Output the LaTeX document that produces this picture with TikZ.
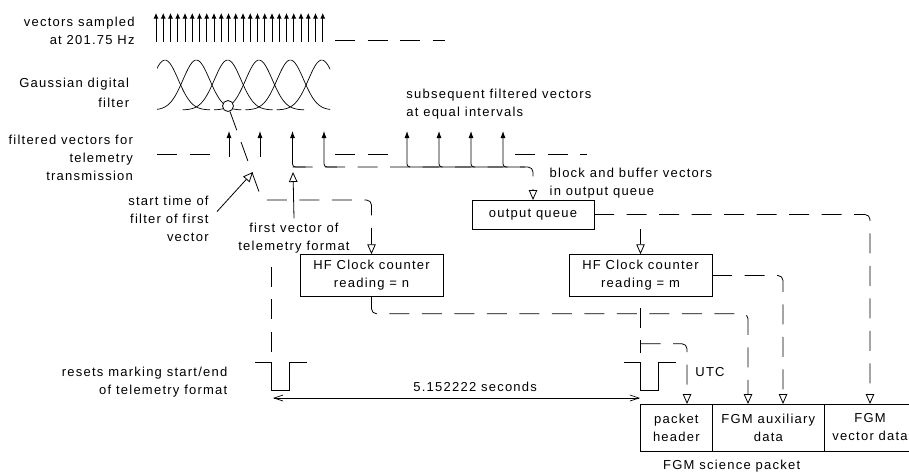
\documentclass[tikz,border=0pt]{standalone}
\usepackage{fontspec}
\setmainfont{Liberation Sans}[LetterSpace=9.5]
\usetikzlibrary{arrows.meta}

\begin{document}
\begin{tikzpicture}[x=1pt,y=-1pt,line width=0.8pt,
    every node/.style={font=\fontsize{13}{18}\selectfont,inner sep=0pt},
    box/.style={draw,align=center,outer sep=0pt},
    dl/.style={dash pattern=on 20pt off 12.5pt},
    hollow/.style={-{Triangle[open,length=10pt,width=8.5pt]}},
    vec/.style={-{Latex[length=7pt,width=5pt]}},
    barb/.style={{Straight Barb[length=9pt,width=6pt]}-{Straight Barb[length=9pt,width=6pt]}}]
\useasboundingbox (0,0) rectangle (909,475);

% labels
\node[anchor=north east,align=right] (samp) at (135,16.6) {vectors sampled\\at 201.75 Hz};
\node[anchor=north east,align=right,font=\fontsize{13}{19.5}\selectfont] (gauss) at (129.5,78) {Gaussian digital\\filter};
\node[anchor=north east,align=right] (filt) at (133.3,134.7) {filtered vectors for\\telemetry\\transmission};
\node[anchor=north east,align=right] (start) at (209,195.6) {start time of\\filter of first\\vector};
\node[anchor=north east,align=right] (resets) at (227.7,366.6) {resets marking start/end\\of telemetry format};
\node[anchor=north west,align=left] (subs) at (406,88.3) {subsequent filtered vectors\\at equal intervals};
\node[anchor=north,align=center] (first) at (294,222.3) {first vector of\\telemetry format};
\node[anchor=north west,align=left] (block) at (549.3,167.6) {block and buffer vectors\\in output queue};

% boxes
\node[box,minimum width=122,minimum height=29] (oq) at (533,214.5) {output queue};
\node[box,minimum width=143,minimum height=42.5] (hfn) at (371.5,275.5) {HF Clock counter\\reading = n};
\node[box,minimum width=143,minimum height=42.5] (hfm) at (640.5,275.5) {HF Clock counter\\reading = m};
\node[box,minimum width=72.7,minimum height=47,anchor=north west] (ph) at (640,404) {packet\\header};
\node[box,minimum width=111.3,minimum height=47,anchor=north west] (aux) at (ph.north east) {FGM auxiliary\\data};
\node[box,minimum width=92,minimum height=47,anchor=north west] (vd) at (aux.north east) {FGM\\vector data};
\node[anchor=base] (sci) at (731.7,469) {FGM science packet};

% sampled vectors
\foreach \i in {0,...,23}
  \draw[-{Latex[length=5.5pt,width=5pt]}] (156+\i*7.25,42) -- (156+\i*7.25,13);
\draw[dl] (335,40) -- (445,40);

% gaussian filter
\begin{scope}
  \clip (157,50) rectangle (330,115);
  \foreach \i in {0,...,5}
    \draw[line width=0.7pt] plot[domain=-45:45,samples=50] ({165+31.34*\i+\x},{110-50*exp(-(\x/18.8)*(\x/18.8))});
\end{scope}
\node[circle,draw,fill=white,minimum size=11pt] (ci) at (228,106) {};

% filtered vectors
\draw[dl] (157,154) -- (210,154);
\draw[dl] (335,154) -- (388,154);
\draw[dl] (515,154) -- (587,154);
\foreach \x in {229,260}
  \draw[vec] (\x,157) -- (\x,131);
\foreach \x in {292.5,324}
  \draw[vec,rounded corners=3pt] (\x+13,167) -- (\x,167) -- (\x,131);
\foreach \x in {407,439,471}
  \draw[vec,rounded corners=3pt] (\x+32,167) -- (\x,167) -- (\x,131);
\draw[vec,rounded corners=3pt] (525,167) -- (503,167) -- (503,131);
\coordinate (fv) at (292.5,167);
\draw[dl,hollow,rounded corners=5pt] (fv) -| (oq.north);

% start of filter, first vector
\coordinate (stt) at (253,172);
\coordinate (ftt) at (293,172);
\draw[hollow] ([shift={(8,16)}]start.north east) -- (stt);
\draw[hollow] ([yshift=4pt]first.north) -- (ftt);
\draw[dl,hollow,rounded corners=5pt] (ci) -- (262,200) -| (hfn.north);

% clock readings into packet
\coordinate (in1) at (687,404);
\coordinate (in2) at (748,404);
\coordinate (in3) at (783,404);
\coordinate (in4) at (870,404);
\draw[dl,hollow,rounded corners=5pt] (oq.east) -| (in4);
\draw[hollow] (oq.south east -| hfm.north) -- (hfm.north);
\draw[dl,hollow,rounded corners=5pt] (hfm.east) -| (in3);
\draw[dl,hollow,rounded corners=5pt] (hfn.south) -- ++(0,17) -| (in2);
\draw[dl,dash phase=21.5pt] (hfm.south) -- ++(0,56);
\draw[dl,hollow,rounded corners=5pt] (hfm.south) ++(0,47) -| (in1);
\node[anchor=base west] (utc) at (695,376.7) {UTC};

% resets
\coordinate (r1) at (271,362);
\coordinate (r2) at (640,362);
\foreach \p in {r1,r2}
  \draw (\p) ++(-16,0) -- ++(16,0) -- ++(0,28) -- ++(18,0) -- ++(0,-28) -- ++(18,0);
\coordinate (rs) at (271,266.7);
\draw[dl] (rs) -- ++(0,85);
\coordinate (d1) at (273,398);
\coordinate (d2) at (640,398);
\draw[barb,line width=0.7pt] (d1) -- (d2);
\node[anchor=base west] (sec) at (413,391.7) {5.152222 seconds};
\end{tikzpicture}
\end{document}
